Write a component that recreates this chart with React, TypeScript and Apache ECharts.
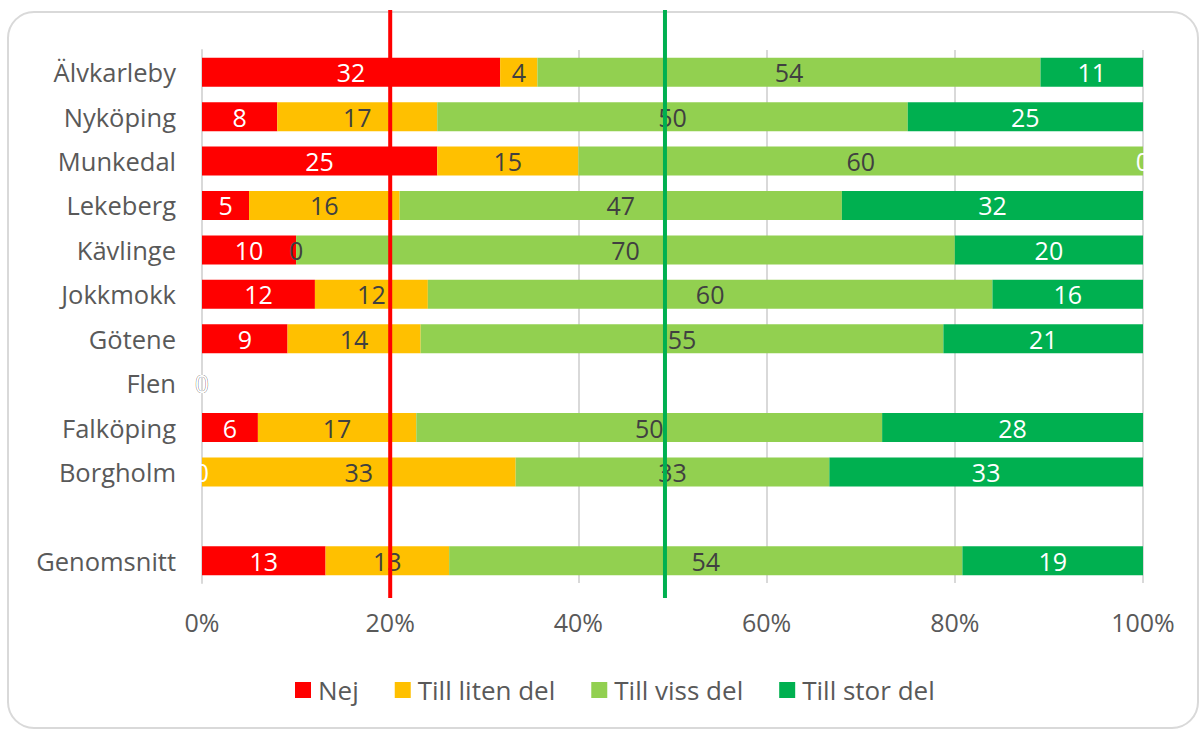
import React, { useEffect, useRef } from "react";
import * as echarts from "echarts";

const categories = ["Älvkarleby", "Nyköping", "Munkedal", "Lekeberg", "Kävlinge", "Jokkmokk", "Götene", "Flen", "Falköping", "Borgholm", "", "Genomsnitt"];
const seriesNames = ["Nej", "Till liten del", "Till viss del", "Till stor del"];
const nej = [32, 8, 25, 5, 10, 12, 9, 0, 6, 0, null, 13];
const litenDel = [4, 17, 15, 16, 0, 12, 14, 0, 17, 33, null, 13];
const vissDel = [54, 50, 60, 47, 70, 60, 55, 0, 50, 33, null, 54];
const storDel = [11, 25, 0, 32, 20, 16, 21, 0, 28, 33, null, 19];
const xTicks = [0, 20, 40, 60, 80, 100];
const refValues = [20, 49.2];

const colors = ["#FF0000", "#FFC000", "#92D050", "#00B050"];
const labelColors = ["#FFFFFF", "#404040", "#404040", "#FFFFFF"];
const refColors = ["#FF0000", "#00B050"];
const FONT = "'Open Sans', sans-serif";

export default function App() {
  const ref = useRef<HTMLDivElement>(null);
  useEffect(() => {
    if (!ref.current) return;
    const chart = echarts.init(ref.current, null, { renderer: "svg" });
    const all = [nej, litenDel, vissDel, storDel];
    const totals = categories.map((_, i) =>
      all.reduce((s, arr) => s + (arr[i] ?? 0), 0)
    );
    const series = all.map((arr, k) => ({
      name: seriesNames[k],
      type: "bar",
      stack: "total",
      barWidth: 29,
      itemStyle: { color: colors[k] },
      label: {
        show: true,
        position: "inside",
        color: labelColors[k],
        fontFamily: FONT,
        fontSize: 25,
        formatter: (p: any) => (p.data && p.data.raw != null ? String(p.data.raw) : ""),
      },
      data: arr.map((v, i) =>
        v == null
          ? null
          : { value: totals[i] > 0 ? (v / totals[i]) * 100 : 0, raw: v }
      ),
      z: 2,
    }));

    chart.setOption({
      animation: false,
      textStyle: { fontFamily: FONT },
      grid: { left: 202, right: 61, top: 50, bottom: 149 },
      xAxis: {
        type: "value",
        min: 0,
        max: 100,
        interval: 20,
        axisLabel: {
          formatter: (v: number) => (xTicks.includes(v) ? v + "%" : ""),
          color: "#595959",
          fontSize: 25,
          fontFamily: FONT,
          margin: 26,
        },
        axisLine: { show: false },
        axisTick: { show: false },
        splitLine: { show: true, lineStyle: { color: "#D9D9D9", width: 2 } },
      },
      yAxis: {
        type: "category",
        inverse: true,
        data: categories,
        axisLabel: { color: "#595959", fontSize: 25.5, fontFamily: FONT, margin: 26 },
        axisLine: { show: true, lineStyle: { color: "#D9D9D9", width: 2 } },
        axisTick: { show: false },
      },
      legend: {
        top: 672,
        left: 290,
        itemWidth: 16,
        itemHeight: 16,
        itemGap: 36,
        icon: "rect",
        textStyle: { color: "#595959", fontSize: 26, fontFamily: FONT, padding: [0, 0, 0, 2] },
        data: seriesNames,
      },
      series,
    });

    const lines = refValues.map((v, k) => {
      const x = chart.convertToPixel({ xAxisIndex: 0 }, v) as number;
      return {
        type: "line",
        z: 100,
        shape: { x1: x, y1: 10, x2: x, y2: 598 },
        style: { stroke: refColors[k], lineWidth: 4 },
      };
    });
    chart.setOption({
      graphic: [
        {
          type: "rect",
          z: -1,
          shape: { x: 8, y: 12, width: 1190, height: 716, r: 26 },
          style: { fill: "#FFFFFF", stroke: "#D9D9D9", lineWidth: 2 },
        },
        ...lines,
      ],
    });
    return () => chart.dispose();
  }, []);
  return (
    <div
      ref={ref}
      style={{ position: "fixed", left: 0, top: 0, width: 1204, height: 732, background: "#fff" }}
    />
  );
}
